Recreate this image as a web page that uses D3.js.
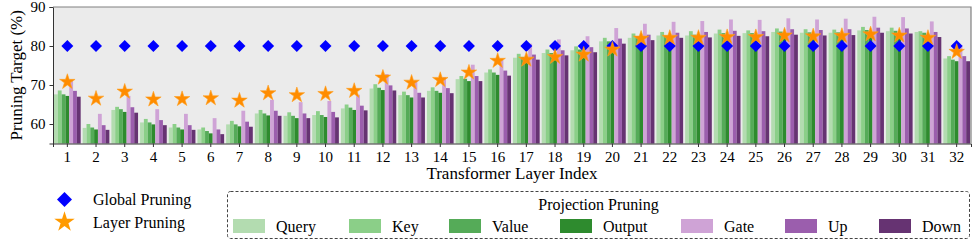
<!DOCTYPE html>
<html>
<head>
<meta charset="utf-8">
<script src="https://cdn.jsdelivr.net/npm/d3@7"></script>
<style>
  body { margin: 0; background: #fff; }
  svg text { font-family: "Liberation Serif", "Times New Roman", serif; fill: #000; }
</style>
</head>
<body>
<div id="Div_chart"></div>
<script>
// layers 1..32
var layers = d3.range(1, 33);
var projections = ["Query", "Key", "Value", "Output", "Gate", "Up", "Down"];
var colors = ["#b3dcb0", "#8bcf88", "#55ab58", "#2e8b2e", "#cfa3d6", "#9b5ead", "#663372"];

var query  = [67.6,59.0,63.6,60.4,59.1,58.6,59.9,62.7,62.1,62.3,64.0,69.1,67.4,68.5,71.5,73.2,77.0,78.2,78.9,81.2,82.1,82.7,82.7,83.2,83.3,83.6,83.4,83.4,84.0,83.8,83.6,76.8];
var key    = [68.6,60.0,64.4,61.3,60.0,59.1,60.8,63.6,63.0,63.3,65.0,70.2,68.3,69.4,72.3,74.0,78.0,79.1,79.9,82.1,83.2,83.6,83.8,84.2,84.0,84.5,84.3,84.2,84.9,84.7,83.8,77.4];
var value  = [67.6,59.1,63.8,60.4,59.1,58.2,59.9,62.7,62.1,62.3,64.2,69.3,67.4,68.5,71.6,73.2,77.2,78.2,79.1,81.2,82.3,82.7,82.9,83.3,83.3,83.7,83.5,83.5,84.1,83.9,83.4,76.5];
var output = [67.2,58.6,63.1,59.9,58.6,57.6,59.4,62.2,61.5,61.8,63.6,68.7,66.8,68.0,71.0,72.6,76.6,77.6,78.5,80.6,81.6,82.1,82.2,82.7,82.7,83.1,82.9,82.8,83.5,83.3,82.9,76.1];
var gate   = [71.2,62.6,67.2,63.8,62.6,61.5,63.4,66.2,65.6,65.9,67.5,72.8,70.9,72.0,75.2,76.4,80.6,81.7,82.5,84.6,85.7,86.2,86.4,86.8,86.7,87.1,86.8,87.0,87.5,87.4,86.3,80.2];
var up     = [68.5,59.7,64.3,61.0,59.7,58.6,60.6,63.4,62.7,63.1,64.7,69.9,68.0,69.2,72.3,73.7,77.8,78.9,79.7,81.9,82.9,83.4,83.6,83.9,83.8,84.3,84.1,84.3,84.7,84.5,83.6,77.4];
var down   = [67.0,58.5,62.9,59.7,58.5,57.4,59.3,62.1,61.5,61.7,63.5,68.6,66.8,67.9,71.0,72.4,76.5,77.6,78.4,80.6,81.5,82.1,82.2,82.6,82.5,82.9,82.7,82.8,83.4,83.2,82.3,76.1];

var globalPruning = [80,80,80,80,80,80,80,80,80,80,80,80,80,80,80,80,80,80,80,80,80,80,80,80,80,80,80,80,80,80,80,80];
var layerPruning  = [70.8,66.5,68.3,66.3,66.4,66.6,66.0,67.9,67.4,67.7,68.5,71.9,70.6,71.3,73.2,76.2,76.5,77.2,77.8,79.1,81.9,82.1,82.1,82.3,82.3,82.7,82.5,82.6,83.0,82.7,82.1,78.5];

var yTicks = [60, 70, 80, 90];

var series = [query, key, value, output, gate, up, down];

//**********************Canvas**********************
var W = 977, H = 244;
var margin = { top: 7, right: 6, bottom: 100.5, left: 53 };

var svg = d3.select("#Div_chart")
    .append("svg")
    .attr("width", W)
    .attr("height", H);

var x = d3.scaleBand().domain(layers).range([margin.left, W - margin.right]).padding(0);
var xInner = d3.scaleBand().domain(d3.range(projections.length))
    .range([0, x.bandwidth() * 0.93]).padding(0);
var y = d3.scaleLinear().domain([55, 90]).range([H - margin.bottom, margin.top]);

// plot background
svg.append("rect")
    .attr("x", margin.left)
    .attr("y", margin.top)
    .attr("width", W - margin.right - margin.left)
    .attr("height", H - margin.bottom - margin.top)
    .attr("fill", "#ebebeb");

//**********************Bars**********************
var rows = [];
layers.forEach(function (l, i) {
    series.forEach(function (s, j) {
        rows.push({ layer: l, k: j, v: s[i] });
    });
});

var off = (x.bandwidth() - x.bandwidth() * 0.93) / 2;
svg.append("g")
    .selectAll("rect")
    .data(rows)
    .enter()
    .append("rect")
    .attr("x", d => x(d.layer) + off + xInner(d.k))
    .attr("y", d => y(d.v))
    .attr("width", xInner.bandwidth())
    .attr("height", d => y(55) - y(d.v))
    .attr("fill", d => colors[d.k]);

//**********************Markers**********************
var diamond = d3.symbol().type(d3.symbolSquare).size(72);
var star = d3.symbol().type(d3.symbolStar).size(74);

svg.append("g")
    .selectAll("path")
    .data(globalPruning)
    .enter()
    .append("path")
    .attr("d", diamond)
    .attr("transform", (d, i) => "translate(" + (x(layers[i]) + x.bandwidth() / 2) + "," + y(d) + ") rotate(45)")
    .attr("fill", "#0000ff");

svg.append("g")
    .selectAll("path")
    .data(layerPruning)
    .enter()
    .append("path")
    .attr("d", star)
    .attr("transform", (d, i) => "translate(" + (x(layers[i]) + x.bandwidth() / 2) + "," + y(d) + ")")
    .attr("fill", "#ff8c00")
    .attr("stroke", "#ffa020")
    .attr("stroke-width", 0.6);

//**********************Axes**********************
var xAxis = svg.append("g")
    .attr("transform", "translate(0," + (H - margin.bottom) + ")")
    .call(d3.axisBottom(x).tickSizeOuter(0).tickSize(3.5).tickPadding(4));
xAxis.selectAll("text").style("font-size", "15px");

var yAxis = svg.append("g")
    .attr("transform", "translate(" + margin.left + ",0)")
    .call(d3.axisLeft(y).tickValues(yTicks).tickSizeOuter(0).tickSize(3.5).tickPadding(4));
yAxis.selectAll("text").style("font-size", "15px");

svg.selectAll(".domain").attr("stroke", "#333");
svg.selectAll(".tick line").attr("stroke", "#333");

// frame top / right
svg.append("path")
    .attr("d", "M" + margin.left + "," + margin.top + "H" + (W - margin.right) + "V" + (H - margin.bottom))
    .attr("fill", "none")
    .attr("stroke", "#808080")
    .attr("stroke-width", 1.2);

svg.append("text")
    .attr("x", (margin.left + W - margin.right) / 2)
    .attr("y", 179)
    .attr("text-anchor", "middle")
    .style("font-size", "17px")
    .text("Transformer Layer Index");

svg.append("text")
    .attr("transform", "translate(22," + ((margin.top + H - margin.bottom) / 2) + ") rotate(-90)")
    .attr("text-anchor", "middle")
    .style("font-size", "17px")
    .text("Pruning Target (%)");

//**********************Legend**********************
var legMarks = [
    { label: "Global Pruning", y: 199.5, sym: d3.symbol().type(d3.symbolSquare).size(112)(), rot: 45, fill: "#0000ff" },
    { label: "Layer Pruning", y: 222, sym: d3.symbol().type(d3.symbolStar).size(130)(), rot: 0, fill: "#ff9a00" }
];
var lm = svg.append("g");
legMarks.forEach(function (m) {
    lm.append("path")
        .attr("d", m.sym)
        .attr("transform", "translate(64.5," + m.y + ") rotate(" + m.rot + ")")
        .attr("fill", m.fill);
    lm.append("text")
        .attr("x", 93)
        .attr("y", m.y)
        .attr("dy", "0.35em")
        .style("font-size", "16px")
        .text(m.label);
});

var box = svg.append("g");
box.append("rect")
    .attr("x", 227.5)
    .attr("y", 191.5)
    .attr("width", 742)
    .attr("height", 47)
    .attr("rx", 3)
    .attr("fill", "#fff")
    .attr("stroke", "#444")
    .attr("stroke-dasharray", "3,2");

box.append("text")
    .attr("x", 598.5)
    .attr("y", 204)
    .attr("dy", "0.35em")
    .attr("text-anchor", "middle")
    .style("font-size", "16px")
    .text("Projection Pruning");

var swatchX = [233, 349, 449, 560, 681, 785, 879];
projections.forEach(function (p, i) {
    box.append("rect")
        .attr("x", swatchX[i])
        .attr("y", 219)
        .attr("width", 32)
        .attr("height", 14)
        .attr("fill", colors[i]);
    box.append("text")
        .attr("x", swatchX[i] + 43)
        .attr("y", 226)
        .attr("dy", "0.35em")
        .style("font-size", "16px")
        .text(p);
});
</script>
</body>
</html>
